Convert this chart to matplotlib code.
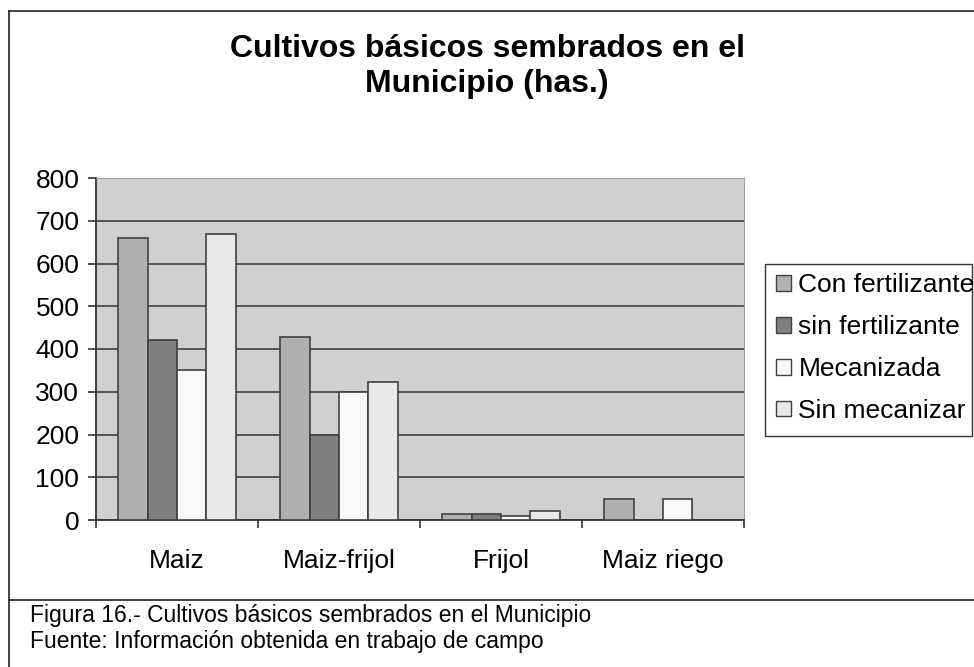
import matplotlib.pyplot as plt
from matplotlib.lines import Line2D
from matplotlib.patches import Rectangle
import numpy as np

plt.rcParams['font.family'] = ['Liberation Sans', 'DejaVu Sans']

categories = ["Maiz", "Maiz-frijol", "Frijol", "Maiz riego"]
series_names = ["Con fertilizante", "sin fertilizante", "Mecanizada", "Sin mecanizar"]
con_fertilizante = [660, 428, 15, 48]
sin_fertilizante = [422, 200, 15, 0]
mecanizada = [350, 300, 10, 48]
sin_mecanizar = [670, 323, 20, 0]
yticks = [0, 100, 200, 300, 400, 500, 600, 700, 800]

values = [con_fertilizante, sin_fertilizante, mecanizada, sin_mecanizar]
colors = ['#b0b0b0', '#7f7f7f', '#f9f9f9', '#e9e9e9']

W, H = 974, 667
fig = plt.figure(figsize=(W / 100, H / 100), dpi=100)
ax = fig.add_axes([96 / W, 1 - 520 / H, (744 - 96) / W, (520 - 178) / H])
ax.set_facecolor('#d0d0d0')

x = np.arange(len(categories))
w = 0.182
handles = []
for i, (vals, col) in enumerate(zip(values, colors)):
    vals = np.array(vals, dtype=float)
    m = vals > 0
    ax.bar(x[m] + (i - 1.5) * w, vals[m], width=w, color=col,
           edgecolor='#404040', linewidth=1.2, zorder=3)
    handles.append(Rectangle((0, 0), 1, 1, facecolor=col, edgecolor='#404040', linewidth=1))

ax.set_xlim(-0.5, 3.5)
ax.set_ylim(0, 800)
ax.set_yticks(yticks)
ax.yaxis.grid(True, color='#555555', linewidth=1.4, zorder=1)
ax.set_axisbelow(True)
ax.set_xticks(x)
ax.set_xticklabels(categories, fontsize=19)
ax.set_xticks(np.arange(-0.5, 4, 1), minor=True)
ax.tick_params(axis='x', which='major', length=0, pad=21)
ax.tick_params(axis='x', which='minor', length=6, width=1.2, color='#333333')
ax.tick_params(axis='y', labelsize=19, length=6, width=1.2, pad=6, color='#333333')
for s in ['top', 'right']:
    ax.spines[s].set_color('#a0a0a0')
for s in ['left', 'bottom']:
    ax.spines[s].set_color('#333333')
    ax.spines[s].set_linewidth(1.3)

# title, two centred lines
fig.text(487 / W, 1 - 57 / H, "Cultivos básicos sembrados en el",
         ha='center', va='baseline', fontsize=23, fontweight='bold')
fig.text(487 / W, 1 - 92 / H, "Municipio (has.)",
         ha='center', va='baseline', fontsize=23, fontweight='bold')

leg = fig.legend(handles, series_names, loc='upper left',
                 bbox_to_anchor=(776 / W, 1 - 273 / H), fontsize=19,
                 handlelength=0.55, handleheight=0.55, handletextpad=0.3,
                 labelspacing=0.68, borderpad=0, frameon=False,
                 borderaxespad=0)
fig.add_artist(Rectangle((765 / W, 1 - 436 / H), (972 - 765) / W, (436 - 264) / H,
                         transform=fig.transFigure, fill=False,
                         edgecolor='#333333', linewidth=1.0))

# outer frame lines
fig.add_artist(Line2D([9 / W, 1], [1 - 11 / H, 1 - 11 / H], color='#222222', lw=1.2))
fig.add_artist(Line2D([9 / W, 9 / W], [1 - 11 / H, 0], color='#222222', lw=1.2))
fig.add_artist(Line2D([9 / W, 1], [1 - 600 / H, 1 - 600 / H], color='#222222', lw=1.2))

fig.text(30 / W, 1 - 622 / H, "Figura 16.- Cultivos básicos sembrados en el Municipio",
         ha='left', va='baseline', fontsize=16.5)
fig.text(30 / W, 1 - 648 / H, "Fuente: Información obtenida en trabajo de campo",
         ha='left', va='baseline', fontsize=16.5)

fig.savefig('out.png', dpi=100)
